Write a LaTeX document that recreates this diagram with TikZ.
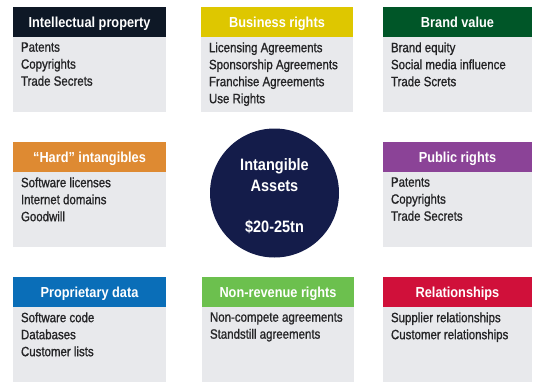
\documentclass[tikz,border=0pt]{standalone}
\usepackage{fontspec}
\setmainfont{Liberation Sans}[FakeStretch=0.88]
\newfontfamily\listfont{Liberation Sans}[FakeStretch=0.85,FakeBold=1]
\usetikzlibrary{positioning}

\definecolor{ipnavy}{RGB}{14,24,38}
\definecolor{bizyellow}{RGB}{222,199,0}
\definecolor{brandgreen}{RGB}{0,86,40}
\definecolor{hardorange}{RGB}{222,138,50}
\definecolor{pubpurple}{RGB}{139,67,151}
\definecolor{datablue}{RGB}{10,110,184}
\definecolor{nonrevgreen}{RGB}{108,192,78}
\definecolor{relred}{RGB}{208,16,58}
\definecolor{coreblue}{RGB}{20,28,74}
\definecolor{panelgray}{RGB}{232,233,236}
\definecolor{listgray}{RGB}{36,36,38}

\begin{document}
\begin{tikzpicture}[x=1pt,y=1pt,
  head/.style={minimum height=30pt,inner sep=0pt,text=white,
    font=\fontsize{14.5}{17}\selectfont\bfseries,text height=11pt,text depth=1pt},
  panel/.style={fill=panelgray,minimum height=75pt,inner sep=0pt},
  list/.style={align=left,inner sep=0pt,text=listgray,
    font=\listfont\fontsize{13.5}{17}\selectfont}]
  \useasboundingbox (0,0) rectangle (533,-381);

  % top row
  \node[head,fill=ipnavy,minimum width=153pt] (ip) at (89.5,-22) {Intellectual property};
  \node[panel,minimum width=153pt,below=0pt of ip] (ipbox) {};
  \node[list,below right=5pt and 8pt of ipbox.north west] (iplist) {Patents\\Copyrights\\Trade Secrets};

  \node[head,fill=bizyellow,minimum width=152pt] (biz) at (277,-22) {Business rights};
  \node[panel,minimum width=152pt,below=0pt of biz] (bizbox) {};
  \node[list,below right=5pt and 8pt of bizbox.north west] (bizlist) {Licensing Agreements\\Sponsorship Agreements\\Franchise Agreements\\Use Rights};

  \node[head,fill=brandgreen,minimum width=149pt] (brand) at (457.5,-22) {Brand value};
  \node[panel,minimum width=149pt,below=0pt of brand] (brandbox) {};
  \node[list,below right=5pt and 8pt of brandbox.north west] (brandlist) {Brand equity\\Social media influence\\Trade Screts};

  % middle row
  \node[head,fill=hardorange,minimum width=153pt] (hard) at (89.5,-157) {“Hard” intangibles};
  \node[panel,minimum width=153pt,below=0pt of hard] (hardbox) {};
  \node[list,below right=5pt and 8pt of hardbox.north west] (hardlist) {Software licenses\\Internet domains\\Goodwill};

  \node[circle,fill=coreblue,minimum size=129pt,inner sep=0pt] (core) at (274.5,-193) {};
  \node[text=white,align=center,inner sep=0pt,yshift=-3pt,
    font=\fontsize{16.5}{21}\selectfont\bfseries] (coretext) at (core)
    {Intangible\\Assets\\[20pt]\$20-25tn};

  \node[head,fill=pubpurple,minimum width=149pt] (pub) at (457.5,-157) {Public rights};
  \node[panel,minimum width=149pt,below=0pt of pub] (pubbox) {};
  \node[list,below right=5pt and 8pt of pubbox.north west] (publist) {Patents\\Copyrights\\Trade Secrets};

  % bottom row
  \node[head,fill=datablue,minimum width=153pt] (data) at (89.5,-292) {Proprietary data};
  \node[panel,minimum width=153pt,below=0pt of data] (databox) {};
  \node[list,below right=5pt and 8pt of databox.north west] (datalist) {Software code\\Databases\\Customer lists};

  \node[head,fill=nonrevgreen,minimum width=152pt] (nonrev) at (278,-292) {Non-revenue rights};
  \node[panel,minimum width=152pt,below=0pt of nonrev] (nonrevbox) {};
  \node[list,below right=5pt and 8pt of nonrevbox.north west] (nonrevlist) {Non-compete agreements\\Standstill agreements};

  \node[head,fill=relred,minimum width=149pt] (rel) at (457.5,-292) {Relationships};
  \node[panel,minimum width=149pt,below=0pt of rel] (relbox) {};
  \node[list,below right=5pt and 8pt of relbox.north west] (rellist) {Supplier relationships\\Customer relationships};
\end{tikzpicture}
\end{document}
